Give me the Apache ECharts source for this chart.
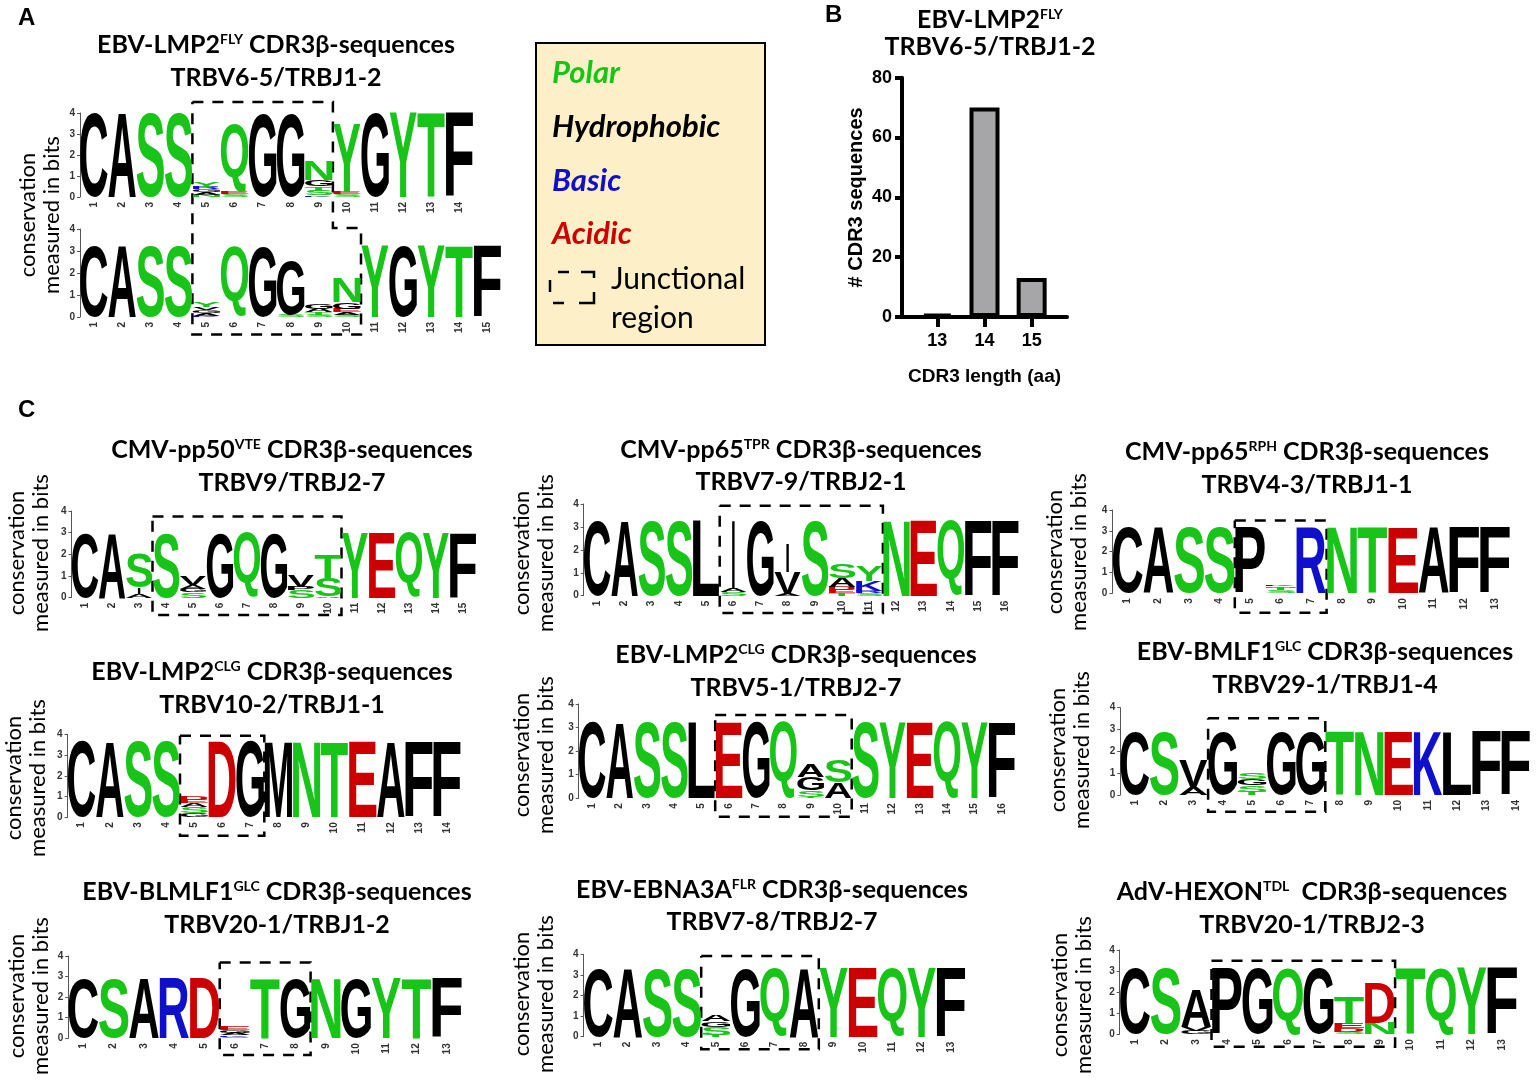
<!DOCTYPE html>
<html><head><meta charset="utf-8">
<script src="https://cdn.jsdelivr.net/npm/echarts@6/dist/echarts.min.js"></script>
<style>html,body{margin:0;padding:0;background:#fff}#c{width:1536px;height:1080px}</style>
</head><body><div id="c"></div>
<script>
// ================= DATA =================
// each logo: positions (1..n), each a stack of [amino acid, height in bits] from bottom to top
const logoA1 = [
  [['C',4.0]],[['A',4.0]],[['S',4.0]],[['S',4.0]],
  [['N',0.1],['A',0.12],['G',0.14],['R',0.14],['Y',0.22]],
  [['S',0.12],['E',0.12],['Q',3.26]],
  [['G',3.95]],[['G',3.95]],
  [['K',0.08],['S',0.22],['T',0.2],['G',0.3],['N',0.9]],
  [['S',0.15],['E',0.1],['Y',3.25]],
  [['G',4.0]],[['Y',4.0]],[['T',4.0]],[['F',4.0]]
];
const logoA2 = [
  [['C',3.25]],[['A',3.25]],[['S',3.25]],[['S',3.25]],
  [['K',0.06],['A',0.12],['G',0.14],['V',0.12],['Y',0.2]],
  [['Q',3.2]],[['G',3.2]],
  [['S',0.12],['G',2.45]],
  [['S',0.1],['T',0.12],['A',0.15],['G',0.25]],
  [['S',0.1],['A',0.12],['E',0.15],['G',0.3],['N',1.13]],
  [['Y',3.25]],[['G',3.25]],[['Y',3.25]],[['T',3.25]],[['F',3.25]]
];
const logoC1 = [
  [['C',3.0]],[['A',3.0]],
  [['A',0.15],['I',0.3],['S',1.55]],
  [['S',3.0]],
  [['S',0.25],['G',0.15],['A',0.2],['V',0.4]],
  [['G',3.0]],[['Q',3.0]],[['G',3.0]],
  [['S',0.35],['P',0.15],['V',0.5]],
  [['A',0.08],['S',0.82],['T',1.07]],
  [['Y',3.0]],[['E',3.0]],[['Q',3.0]],[['Y',3.0]],[['F',3.0]]
];
const logoC2 = [
  [['C',3.3]],[['A',3.3]],[['S',3.3]],[['S',3.3]],[['L',3.3]],
  [['S',0.15],['A',0.15],['I',3.0]],
  [['G',3.3]],
  [['A',0.08],['V',0.95],['I',1.25]],
  [['S',3.3]],
  [['T',0.1],['E',0.15],['D',0.15],['A',0.38],['S',0.6]],
  [['S',0.1],['R',0.1],['K',0.45],['Y',0.65]],
  [['N',3.3]],[['E',3.3]],[['Q',3.3]],[['F',3.3]],[['F',3.3]]
];
const logoC3 = [
  [['C',3.15]],[['A',3.15]],[['S',3.15]],[['S',3.15]],[['P',3.15]],
  [['S',0.15],['T',0.1],['N',0.08],['K',0.05]],
  [['R',3.15]],[['N',3.15]],[['T',3.15]],[['E',3.15]],[['A',3.15]],[['F',3.15]],[['F',3.15]]
];
const logoC4 = [
  [['C',3.65]],[['A',3.65]],[['S',3.65]],[['S',3.65]],
  [['G',0.2],['S',0.3],['A',0.2],['E',0.15],['D',0.15]],
  [['D',3.65]],[['G',3.65]],[['M',3.65]],[['N',3.65]],[['T',3.65]],[['E',3.65]],[['A',3.65]],[['F',3.65]],[['F',3.65]]
];
const logoC5 = [
  [['C',3.22]],[['A',3.22]],[['S',3.22]],[['S',3.22]],[['L',3.22]],[['E',3.22]],[['G',3.22]],[['Q',3.22]],
  [['T',0.05],['S',0.3],['G',0.57],['A',0.56]],
  [['A',0.68],['S',0.95]],
  [['S',3.22]],[['Y',3.22]],[['E',3.22]],[['Q',3.22]],[['Y',3.22]],[['F',3.22]]
];
const logoC6 = [
  [['C',2.9]],[['S',2.9]],
  [['A',0.38],['V',1.2]],
  [['G',2.9]],
  [['T',0.15],['S',0.3],['G',0.3],['S',0.3]],
  [['G',2.9]],[['G',2.9]],[['T',2.9]],[['N',2.9]],[['E',2.9]],[['K',2.9]],[['L',2.9]],[['F',2.9]],[['F',2.9]]
];
const logoC7 = [
  [['C',2.9]],[['S',2.9]],[['A',2.9]],[['R',2.9]],[['D',2.9]],
  [['S',0.08],['K',0.08],['A',0.12],['G',0.12],['E',0.2]],
  [['T',2.9]],[['G',2.9]],[['N',2.9]],[['G',2.9]],[['Y',2.9]],[['T',2.9]],[['F',2.9]]
];
const logoC8 = [
  [['C',3.35]],[['A',3.35]],[['S',3.35]],[['S',3.35]],
  [['T',0.1],['S',0.38],['G',0.26],['A',0.28]],
  [['G',3.35]],[['Q',3.35]],[['A',3.35]],[['Y',3.35]],[['E',3.35]],[['Q',3.35]],[['Y',3.35]],[['F',3.35]]
];
const logoC9 = [
  [['C',3.15]],[['S',3.15]],
  [['G',0.15],['V',0.2],['A',1.8]],
  [['P',3.15]],[['G',3.15]],[['Q',3.15]],[['G',3.15]],
  [['S',0.1],['D',0.2],['E',0.25],['T',1.2]],
  [['N',0.55],['D',1.85]],
  [['T',3.15]],[['Q',3.15]],[['Y',3.15]],[['F',3.15]]
];
// panel B
const cdr3Lengths = [13, 14, 15];
const cdr3Counts = [1, 70, 13];
const bitTicks = [0, 4, 1]; // min, max, interval

// ================= LAYOUT / STYLE =================
const GREEN = '#18c418', RED = '#cc0000', BLUE = '#1010cc', BLACK = '#000000';
function aaColor(l) {
  if ('STYNQ'.includes(l)) return GREEN;
  if ('DE'.includes(l)) return RED;
  if ('KRH'.includes(l)) return BLUE;
  return BLACK;
}
const LOGO_FONT = 'bold 100px "Liberation Sans"';
const TITLE_FONT = 'bold 25px Lato';
const SUP_FONT = 'bold 14px Lato';

const logos = [
  {data: logoA1, left: 80, band: 28.1, top: 113, zero: 197},
  {data: logoA2, left: 80, band: 28.1, top: 229, zero: 317},
  {data: logoC1, left: 71.5, band: 27, top: 511, zero: 597.7},
  {data: logoC2, left: 583.7, band: 27.2, top: 504, zero: 595.7},
  {data: logoC3, left: 1112.4, band: 30.6, top: 510, zero: 593.3},
  {data: logoC4, left: 67.6, band: 28.1, top: 734.3, zero: 817.3},
  {data: logoC5, left: 578.7, band: 27.3, top: 704, zero: 798.3},
  {data: logoC6, left: 1120.2, band: 29.3, top: 707.7, zero: 795},
  {data: logoC7, left: 68.2, band: 30.3, top: 956, zero: 1038.3},
  {data: logoC8, left: 583.6, band: 29.4, top: 954.3, zero: 1036.7},
  {data: logoC9, left: 1119.7, band: 30.6, top: 950, zero: 1034.3}
];

const titles = [
  {parts: ['EBV-LMP2', 'FLY', ' CDR3β-sequences'], line2: 'TRBV6-5/TRBJ1-2', x: 276, y1: 45, y2: 78},
  {parts: ['EBV-LMP2', 'FLY', ''], line2: 'TRBV6-5/TRBJ1-2', x: 990, y1: 20, y2: 47},
  {parts: ['CMV-pp50', 'VTE', ' CDR3β-sequences'], line2: 'TRBV9/TRBJ2-7', x: 292, y1: 450, y2: 483},
  {parts: ['CMV-pp65', 'TPR', ' CDR3β-sequences'], line2: 'TRBV7-9/TRBJ2-1', x: 801, y1: 450, y2: 482},
  {parts: ['CMV-pp65', 'RPH', ' CDR3β-sequences'], line2: 'TRBV4-3/TRBJ1-1', x: 1307, y1: 452, y2: 485},
  {parts: ['EBV-LMP2', 'CLG', ' CDR3β-sequences'], line2: 'TRBV10-2/TRBJ1-1', x: 272, y1: 672, y2: 705},
  {parts: ['EBV-LMP2', 'CLG', ' CDR3β-sequences'], line2: 'TRBV5-1/TRBJ2-7', x: 796, y1: 655, y2: 688},
  {parts: ['EBV-BMLF1', 'GLC', ' CDR3β-sequences'], line2: 'TRBV29-1/TRBJ1-4', x: 1325, y1: 652, y2: 685},
  {parts: ['EBV-BLMLF1', 'GLC', ' CDR3β-sequences'], line2: 'TRBV20-1/TRBJ1-2', x: 277, y1: 892, y2: 925},
  {parts: ['EBV-EBNA3A', 'FLR', ' CDR3β-sequences'], line2: 'TRBV7-8/TRBJ2-7', x: 772, y1: 890, y2: 922},
  {parts: ['AdV-HEXON', 'TDL', '  CDR3β-sequences'], line2: 'TRBV20-1/TRBJ2-3', x: 1312, y1: 892, y2: 925}
];
const yTitles = [[40,215],[29,553],[534,553],[1067,552],[26,778],[534,755],[1070,750],[29,996],[534,994],[1072,995]];
// junctional boxes: grid index, first/last position (1-based), top/bottom in bits
const boxes = [
  {g: 2, from: 4, to: 10, top: 3.75, bottom: -0.8},
  {g: 3, from: 6, to: 11, top: 3.92, bottom: -0.76},
  {g: 4, from: 5, to: 7, top: 3.49, bottom: -0.93},
  {g: 5, from: 5, to: 7, top: 3.93, bottom: -0.89},
  {g: 6, from: 6, to: 10, top: 3.53, bottom: -0.78},
  {g: 7, from: 4, to: 7, top: 3.52, bottom: -0.77},
  {g: 8, from: 6, to: 8, top: 3.69, bottom: -0.81},
  {g: 9, from: 5, to: 8, top: 3.92, bottom: -0.61},
  {g: 10, from: 4, to: 9, top: 3.49, bottom: -0.59}
];

// ================= glyph metrics =================
const mctx = document.createElement('canvas').getContext('2d');
const metricCache = {};
function metric(ch) {
  if (metricCache[ch]) return metricCache[ch];
  mctx.font = LOGO_FONT; mctx.textBaseline = 'middle'; mctx.textAlign = 'left';
  const m = mctx.measureText(ch);
  const r = {l: -m.actualBoundingBoxLeft, t: -m.actualBoundingBoxAscent,
    w: m.actualBoundingBoxLeft + m.actualBoundingBoxRight,
    h: m.actualBoundingBoxAscent + m.actualBoundingBoxDescent};
  metricCache[ch] = r; return r;
}

// ================= OPTION =================
const grid = [], xAxis = [], yAxis = [], series = [];
logos.forEach((L, g) => {
  const n = L.data.length;
  grid.push({left: L.left, top: L.top, width: n * L.band, height: L.zero - L.top, containLabel: false});
  xAxis.push({type: 'category', gridIndex: g, data: L.data.map((_, i) => String(i + 1)),
    axisLine: {show: false}, axisTick: {show: false}, splitLine: {show: false},
    axisLabel: {rotate: 90, interval: 0, fontSize: 10, fontWeight: 'bold', color: '#333', margin: 5, fontFamily: 'Liberation Sans'}});
  yAxis.push({type: 'value', gridIndex: g, min: bitTicks[0], max: bitTicks[1], interval: bitTicks[2],
    axisLine: {show: true, lineStyle: {color: '#555', width: 1}},
    axisTick: {show: true, length: 3, lineStyle: {color: '#555'}}, splitLine: {show: false},
    axisLabel: {fontSize: 10, fontWeight: 'bold', color: '#333', margin: 5, fontFamily: 'Liberation Sans'}});
  const items = [];
  L.data.forEach((stack, i) => {
    let base = 0;
    stack.forEach(([ch, h]) => { items.push({pos: i, base: base, h: h, ch: ch}); base += h; });
  });
  series.push({type: 'custom', xAxisIndex: g, yAxisIndex: g, silent: true, clip: false,
    data: items.map(it => [it.pos, it.base, it.base + it.h]),
    encode: {x: 0, y: [1, 2]},
    renderItem: (params, api) => {
      const it = items[params.dataIndex];
      const p0 = api.coord([api.value(0), api.value(1)]);
      const p1 = api.coord([api.value(0), api.value(2)]);
      const band = api.size([1, 0])[0];
      let w = band * 0.98;
      if (it.ch === 'I') w = band * 0.1;
      const x0 = p0[0] - w / 2;
      const hh = p0[1] - p1[1];
      if (hh < 0.3) return null;
      const m = metric(it.ch);
      const sx = w / m.w, sy = hh / m.h;
      return {type: 'text', x: x0 - m.l * sx, y: p1[1] - m.t * sy, scaleX: sx, scaleY: sy, silent: true,
        style: {text: it.ch, font: LOGO_FONT, fill: aaColor(it.ch), align: 'left', verticalAlign: 'middle'}};
    }});
});
// panel B bar chart
const gb = logos.length;
grid.push({left: 902, top: 77.7, width: 165, height: 239.3});
xAxis.push({type: 'value', gridIndex: gb, min: 12.25, max: 15.75,
  axisLine: {show: true, onZero: false, lineStyle: {color: '#000', width: 4}},
  axisTick: {show: true, customValues: cdr3Lengths, length: 10, lineStyle: {color: '#000', width: 4}},
  axisLabel: {customValues: cdr3Lengths, fontSize: 18, fontWeight: 'bold', color: '#000', margin: 15, fontFamily: 'Liberation Sans'},
  splitLine: {show: false},
  name: 'CDR3 length (aa)', nameLocation: 'middle', nameGap: 50,
  nameTextStyle: {fontSize: 19, fontWeight: 'bold', color: '#000', fontFamily: 'Liberation Sans'}});
yAxis.push({type: 'value', gridIndex: gb, min: 0, max: 80, interval: 20,
  axisLine: {show: true, lineStyle: {color: '#000', width: 4}},
  axisTick: {show: true, length: 7, lineStyle: {color: '#000', width: 4}},
  axisLabel: {fontSize: 18, fontWeight: 'bold', color: '#000', margin: 10, fontFamily: 'Liberation Sans'},
  splitLine: {show: false},
  name: '# CDR3 sequences', nameLocation: 'middle', nameGap: 36, nameRotate: 90,
  nameTextStyle: {fontSize: 20, fontWeight: 'bold', color: '#000', fontFamily: 'Liberation Sans'}});
series.push({type: 'bar', xAxisIndex: gb, yAxisIndex: gb, barWidth: 30,
  data: cdr3Lengths.map((l, i) => [l, cdr3Counts[i]]),
  itemStyle: {color: '#a6a6a9', borderColor: '#000', borderWidth: 4}});

const chart = echarts.init(document.getElementById('c'), null, {renderer: 'canvas', width: 1536, height: 1080});
chart.setOption({animation: false, backgroundColor: '#fff', grid, xAxis, yAxis, series});

// ================= GRAPHICS (text, legend, junction boxes) =================
const gfx = [];
let gid = 0;
function add(el) { el.id = 'g' + (gid++); gfx.push(el); }
// panel letters
[['A', 18, 6], ['B', 825, 3], ['C', 18, 398]].forEach(([t, x, y]) =>
  add({type: 'text', x, y, style: {text: t, font: 'bold 24px "Liberation Sans"', fill: '#000', align: 'left', verticalAlign: 'top'}}));
// titles
titles.forEach(T => {
  add({type: 'text', x: T.x, y: T.y1, style: {text: '{m|' + T.parts[0] + '}{s|' + T.parts[1] + '}' + (T.parts[2] ? '{m|' + T.parts[2] + '}' : ''),
    align: 'center', verticalAlign: 'middle',
    rich: {m: {font: TITLE_FONT, fill: '#000', color: '#000'}, s: {font: SUP_FONT, fill: '#000', color: '#000', verticalAlign: 'top'}}}});
  add({type: 'text', x: T.x, y: T.y2, style: {text: T.line2, font: TITLE_FONT, fill: '#000', align: 'center', verticalAlign: 'middle'}});
});
// y axis titles
yTitles.forEach(([x, y]) => add({type: 'text', x, y, rotation: Math.PI / 2,
  style: {text: 'conservation\nmeasured in bits', font: '22px Lato', fill: '#000', align: 'center', verticalAlign: 'middle', lineHeight: 24}}));
// legend
add({type: 'rect', shape: {x: 536, y: 43, width: 229, height: 302}, style: {fill: '#fdf0c9', stroke: '#000', lineWidth: 2}});
[['Polar', GREEN, 73], ['Hydrophobic', BLACK, 127], ['Basic', BLUE, 181], ['Acidic', RED, 234]].forEach(([t, c, y]) =>
  add({type: 'text', x: 552, y, style: {text: t, font: 'italic bold 31px Lato', fill: c, align: 'left', verticalAlign: 'middle'}}));
const iconStyle = {fill: null, stroke: '#000', lineWidth: 2.5};
[[[558, 272], [569, 272]], [[581, 272], [594, 272], [594, 278]], [[550, 280], [550, 292]],
 [[553, 303], [564, 303]], [[579, 303], [594, 303], [594, 292]]].forEach(pts =>
  add({type: 'polyline', shape: {points: pts}, style: iconStyle}));
add({type: 'text', x: 611, y: 279, style: {text: 'Junctional', font: '30px Lato', fill: '#000', align: 'left', verticalAlign: 'middle'}});
add({type: 'text', x: 611, y: 318, style: {text: 'region', font: '30px Lato', fill: '#000', align: 'left', verticalAlign: 'middle'}});

// junction boxes computed through the axes
function posEdge(g, p, side) { // p 1-based, side -1 left / +1 right
  const c0 = chart.convertToPixel({xAxisIndex: g}, 0), c1 = chart.convertToPixel({xAxisIndex: g}, 1);
  const c = chart.convertToPixel({xAxisIndex: g}, p - 1);
  return c + side * (c1 - c0) / 2;
}
function bitY(g, v) { return chart.convertToPixel({yAxisIndex: g}, v); }
const dashStyle = {fill: null, stroke: '#000', lineWidth: 2.5, lineDash: [11, 9]};
boxes.forEach(B => {
  const xl = posEdge(B.g, B.from, -1), xr = posEdge(B.g, B.to, 1);
  const yt = bitY(B.g, B.top), yb = bitY(B.g, B.bottom);
  add({type: 'polyline', shape: {points: [[xl, yt], [xr, yt], [xr, yb], [xl, yb], [xl, yt]]}, style: dashStyle});
});
// panel A composite box spanning both logos
(function () {
  const xl = posEdge(0, 5, -1), xr1 = posEdge(0, 9, 1), xr2 = posEdge(1, 10, 1);
  const yt = bitY(0, 4.52), ymid = bitY(1, 4.05), yb = bitY(1, -0.8);
  add({type: 'polyline', shape: {points: [[xl, yt], [xr1, yt], [xr1, ymid], [xr2, ymid], [xr2, yb], [xl, yb], [xl, yt]]}, style: dashStyle});
})();

chart.setOption({graphic: {elements: gfx}});
</script></body></html>
